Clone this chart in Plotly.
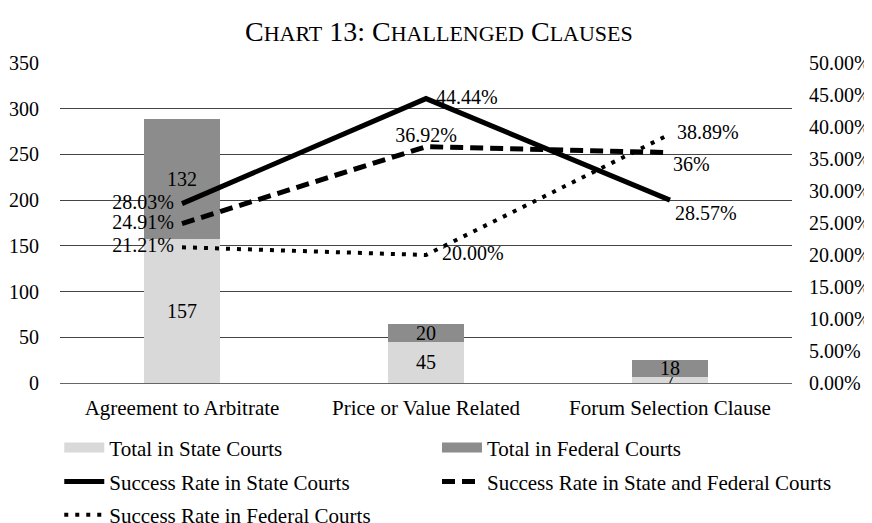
import plotly.graph_objects as go

categories = ["Agreement to Arbitrate", "Price or Value Related", "Forum Selection Clause"]
state_totals = [157, 45, 7]
federal_totals = [132, 20, 18]
rate_state = [0.2803, 0.4444, 0.2857]
rate_combined = [0.2491, 0.3692, 0.36]
rate_federal = [0.2121, 0.2000, 0.3889]
label_state = ["28.03%", "44.44%", "28.57%"]
label_combined = ["24.91%", "36.92%", "36%"]
label_federal = ["21.21%", "20.00%", "38.89%"]

FONT = "Liberation Serif"
fs = 20
fs_cat = 21
fs_leg = 21
LIGHT = "#d9d9d9"
DARK = "#8c8c8c"

fig = go.Figure()
fig.add_trace(go.Bar(
    x=categories, y=state_totals, name="Total in State Courts", showlegend=False,
    marker=dict(color=LIGHT, line=dict(width=0)),
    text=[str(v) for v in state_totals], textposition="inside", textangle=0,
    insidetextanchor="middle", textfont=dict(family=FONT, size=fs, color="black"),
    yaxis="y"))
fig.add_trace(go.Bar(
    x=categories, y=federal_totals, name="Total in Federal Courts", showlegend=False,
    marker=dict(color=DARK, line=dict(width=0)),
    text=[str(v) for v in federal_totals], textposition="inside", textangle=0,
    insidetextanchor="middle", textfont=dict(family=FONT, size=fs, color="black"),
    yaxis="y"))

# legend-only entries drawn as wide swatches like the reference
fig.add_trace(go.Scatter(x=[None], y=[None], mode="lines", name="Total in State Courts",
                         line=dict(color=LIGHT, width=11), legend="legend", hoverinfo="skip"))
fig.add_trace(go.Scatter(x=[None], y=[None], mode="lines", name="Total in Federal Courts",
                         line=dict(color=DARK, width=11), legend="legend4", hoverinfo="skip"))

INVIS = "rgba(0,0,0,0)"
fig.add_trace(go.Scatter(
    x=categories, y=rate_state, name="Success Rate in State Courts",
    mode="lines+markers+text", line=dict(color="black", width=5),
    marker=dict(size=[11.2, 14.4, 6.4], color=INVIS, line=dict(width=0)),
    text=label_state, textposition=["middle left", "middle right", "bottom right"],
    textfont=dict(family=FONT, size=fs, color="black"),
    yaxis="y2", legend="legend2", cliponaxis=False))
fig.add_trace(go.Scatter(
    x=categories, y=rate_combined, name="Success Rate in State and Federal Courts",
    mode="lines+markers+text", line=dict(color="black", width=5, dash="13px,7px"),
    marker=dict(size=[11.2, 0, 3.2], color=INVIS, line=dict(width=0)),
    text=label_combined, textposition=["middle left", "top center", "bottom right"],
    textfont=dict(family=FONT, size=fs, color="black"),
    yaxis="y2", legend="legend5", cliponaxis=False))
fig.add_trace(go.Scatter(
    x=categories, y=rate_federal, name="Success Rate in Federal Courts",
    mode="lines+markers+text", line=dict(color="black", width=4, dash="4px,7px"),
    marker=dict(size=[11.2, 24, 9.6], color=INVIS, line=dict(width=0)),
    text=label_federal, textposition=["middle left", "middle right", "middle right"],
    textfont=dict(family=FONT, size=fs, color="black"),
    yaxis="y2", legend="legend3", cliponaxis=False))

title_html = ("C<span style='font-size:22px'>HART</span> 13: "
              "C<span style='font-size:22px'>HALLENGED</span> "
              "C<span style='font-size:22px'>LAUSES</span>")

legend_common = dict(orientation="h", xanchor="left", yanchor="middle",
                     xref="paper", yref="paper", traceorder="normal",
                     font=dict(family=FONT, size=fs_leg, color="black"),
                     itemwidth=40,
                     bgcolor="rgba(0,0,0,0)", itemclick=False, itemdoubleclick=False)

COL1, COL2 = -0.001, 0.515
ROW1, ROW2, ROW3 = -0.203, -0.309, -0.4125

# plot area: 732 x 320 px
fig.update_layout(
    width=872, height=523,
    margin=dict(l=52, r=88, t=55, b=148, autoexpand=False),
    paper_bgcolor="white", plot_bgcolor="white",
    font=dict(family=FONT, size=fs, color="black"),
    barmode="stack", bargap=0.685,
    title=dict(text=title_html, x=0.2718, xanchor="left", y=0.956, yanchor="middle",
               font=dict(family=FONT, size=28, color="black")),
    xaxis=dict(showgrid=False, showline=False, ticks="", ticklabelstandoff=10,
               tickfont=dict(family=FONT, size=fs_cat)),
    yaxis=dict(range=[0, 350], dtick=50, showgrid=True, gridcolor="#444", gridwidth=1,
               zeroline=True, zerolinecolor="#666", zerolinewidth=1,
               showline=False, ticks="", ticklabelstandoff=20,
               tickfont=dict(family=FONT, size=fs)),
    yaxis2=dict(range=[0, 0.5], dtick=0.05, tickformat=".2%", overlaying="y", side="right",
                showgrid=False, zeroline=False, showline=False, ticks="",
                ticklabelstandoff=16, tickfont=dict(family=FONT, size=fs)),
    legend=dict(x=COL1, y=ROW1, **legend_common),
    legend4=dict(x=COL2, y=ROW1, **legend_common),
    legend2=dict(x=COL1, y=ROW2, **legend_common),
    legend5=dict(x=COL2, y=ROW2, **legend_common),
    legend3=dict(x=COL1, y=ROW3, **legend_common),
    uniformtext=dict(minsize=fs, mode="show"),
    showlegend=True,
)

fig.write_html("out.html")
